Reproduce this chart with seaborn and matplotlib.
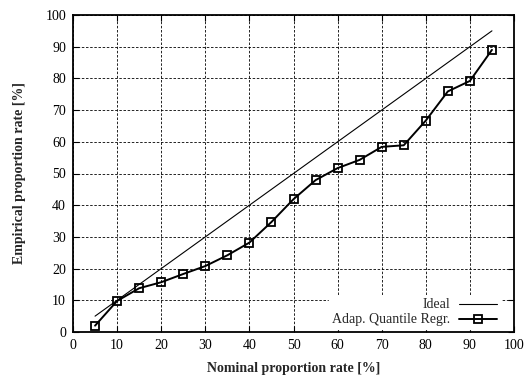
import matplotlib
matplotlib.use("Agg")
import matplotlib.pyplot as plt
import seaborn as sns
import pandas as pd

nominal = [5, 10, 15, 20, 25, 30, 35, 40, 45, 50, 55, 60, 65, 70, 75, 80, 85, 90, 95]
empirical = [2.0, 9.8, 13.8, 15.7, 18.3, 20.8, 24.2, 28.2, 34.7, 41.9, 47.9, 51.7, 54.3, 58.4, 58.9, 66.7, 75.9, 79.2, 89.0]
ideal_x = [5, 95]
ideal_y = [5, 95]
ticks = [0, 10, 20, 30, 40, 50, 60, 70, 80, 90, 100]

sns.set_theme(style="white")
plt.rcParams['font.family'] = ['Liberation Serif', 'DejaVu Serif']

fig = plt.figure(figsize=(5.26, 3.76), dpi=100)
ax = fig.add_axes([73/526, 1-332/376, (514-73)/526, (332-15)/376])

df = pd.DataFrame({"x": nominal, "y": empirical})
dfi = pd.DataFrame({"x": ideal_x, "y": ideal_y})

sns.lineplot(data=dfi, x="x", y="y", ax=ax, color="black", linewidth=0.8, label="Ideal")
sns.lineplot(data=df, x="x", y="y", ax=ax, color="black", linewidth=1.4,
             marker="s", markersize=5.2, markerfacecolor="none", markeredgecolor="black",
             markeredgewidth=1.3, label="Adap. Quantile Regr.")

ax.set_xlim(0, 100)
ax.set_ylim(0, 100)
ax.set_xticks(ticks)
ax.set_yticks(ticks)
ax.set_xticklabels([str(t) for t in ticks], fontsize=10)
ax.set_yticklabels([str(t) for t in ticks], fontsize=10)
ax.tick_params(direction="in", length=4, width=0.8, top=True, right=True,
               bottom=True, left=True, colors="black", pad=5)
ax.grid(True, color="black", linestyle=(0, (3, 2)), linewidth=0.6)
ax.set_axisbelow(True)
for s in ax.spines.values():
    s.set_color("black")
    s.set_linewidth(1.3)

ax.set_xlabel("Nominal proportion rate [%]", fontsize=10, fontweight="bold", labelpad=7)
ax.set_ylabel("Empirical proportion rate [%]", fontsize=10, fontweight="bold", labelpad=14)

leg = ax.legend(loc="lower right", markerfirst=False, frameon=True, fontsize=10,
                handlelength=2.8, borderaxespad=0.2, borderpad=0.2,
                labelspacing=0.15, handletextpad=0.6, fancybox=False,
                bbox_to_anchor=(0.975, 0.0))
leg.get_frame().set_edgecolor("white")
leg.get_frame().set_facecolor("white")
leg.get_frame().set_alpha(1.0)
for t in leg.get_texts():
    t.set_ha("right")

fig.savefig("out.png", dpi=100)
